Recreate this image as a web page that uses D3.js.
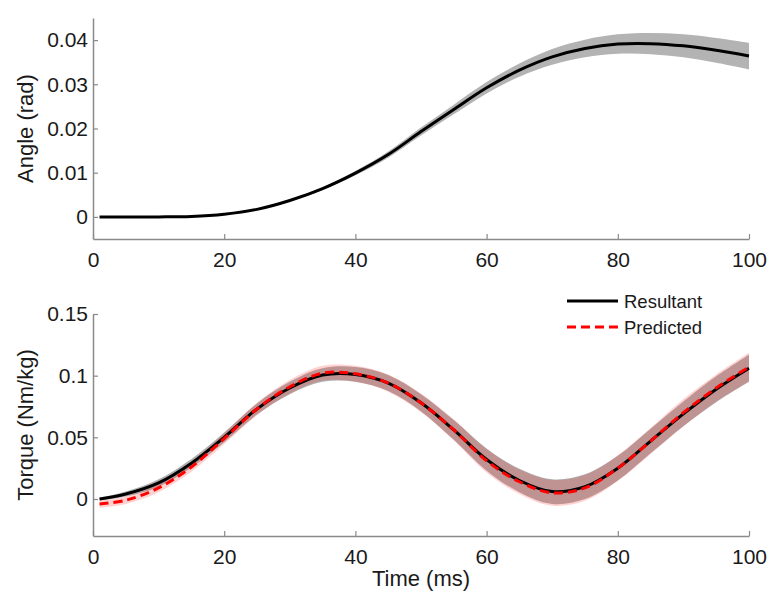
<!DOCTYPE html>
<html>
<head>
<meta charset="utf-8">
<script src="https://cdn.jsdelivr.net/npm/d3@7/dist/d3.min.js"></script>
<style>
  html, body { margin: 0; padding: 0; background: #fff; }
  svg { display: block; font-family: "Liberation Sans", Arial, Helvetica, sans-serif; }
</style>
</head>
<body>
<svg id="chart" width="782" height="606"></svg>
<script>
// ---- data ----
const timeMs = [1, 5, 10, 15, 20, 25, 30, 35, 40, 45, 50, 55, 60, 65, 70, 75, 80, 85, 90, 95, 100];
const angleMean = [0, 0, 0, 0.0001, 0.0006, 0.0017, 0.0037, 0.0064, 0.0099, 0.0141, 0.0193, 0.0243, 0.0292, 0.0332, 0.0362, 0.0381, 0.0391, 0.0392, 0.0387, 0.0377, 0.0364];
const angleSD = [0.0001, 0.0001, 0.0001, 0.0001, 0.0001, 0.0001, 0.0002, 0.0003, 0.0005, 0.0007, 0.0009, 0.0011, 0.0013, 0.0015, 0.0018, 0.0020, 0.0022, 0.0024, 0.0026, 0.0028, 0.0030];
const resultantMean = [0.000, 0.004, 0.013, 0.029, 0.050, 0.073, 0.090, 0.1005, 0.101, 0.094, 0.078, 0.056, 0.032, 0.015, 0.006, 0.010, 0.025, 0.047, 0.069, 0.089, 0.106];
const resultantSD = [0.001, 0.002, 0.003, 0.0035, 0.004, 0.0045, 0.005, 0.0055, 0.006, 0.0065, 0.007, 0.008, 0.009, 0.0095, 0.010, 0.010, 0.010, 0.010, 0.010, 0.0105, 0.011];
const predictedMean = [-0.004, -0.001, 0.009, 0.026, 0.049, 0.073, 0.091, 0.102, 0.1015, 0.094, 0.078, 0.056, 0.031, 0.014, 0.005, 0.009, 0.025, 0.047, 0.070, 0.090, 0.107];
const predictedSD = [0.003, 0.003, 0.0035, 0.004, 0.0045, 0.005, 0.0055, 0.006, 0.0065, 0.007, 0.0075, 0.0085, 0.0095, 0.010, 0.0105, 0.0105, 0.0105, 0.0105, 0.011, 0.011, 0.0115];
const xTicks = [0, 20, 40, 60, 80, 100];
const angleTicks = [0, 0.01, 0.02, 0.03, 0.04];
const angleTickLabels = ["0", "0.01", "0.02", "0.03", "0.04"];
const torqueTicks = [0, 0.05, 0.1, 0.15];
const torqueTickLabels = ["0", "0.05", "0.1", "0.15"];
const seriesNames = ["Resultant", "Predicted"];

const svg = d3.select("#chart");
const axisColor = "#8a8a8a";
const textColor = "#1a1a1a";

const x = d3.scaleLinear().domain([0, 100]).range([93, 749]);
const yA = d3.scaleLinear().domain([-0.005, 0.045]).range([239, 18]);
const yT = d3.scaleLinear().domain([-0.03, 0.15]).range([536, 314]);

const curve = d3.curveCatmullRom.alpha(0.5);

function drawAxes(y, yTicks, yLabels, ylabel, withXLabel) {
  const g = svg.append("g");
  const xa = d3.axisBottom(x).tickValues(xTicks).tickFormat(d3.format("d"))
    .tickSizeInner(-5).tickSizeOuter(0).tickPadding(13);
  const gx = g.append("g").attr("transform", `translate(0,${y.range()[0]})`).call(xa);
  const ya = d3.axisLeft(y).tickValues(yTicks).tickFormat((d, i) => yLabels[i])
    .tickSizeInner(-5).tickSizeOuter(0).tickPadding(5);
  const gy = g.append("g").attr("transform", `translate(${x.range()[0]},0)`).call(ya);
  [gx, gy].forEach(a => {
    a.select(".domain").attr("stroke", axisColor).attr("stroke-width", 1.5);
    a.selectAll(".tick line").attr("stroke", axisColor).attr("stroke-width", 1.2);
    a.selectAll(".tick text").attr("fill", textColor).style("font-size", "21px")
      .style("font-family", "'Liberation Sans', Arial, sans-serif");
  });
  const cy = (y.range()[0] + y.range()[1]) / 2;
  g.append("text").attr("transform", `translate(33,${cy}) rotate(-90)`)
    .attr("text-anchor", "middle").attr("fill", textColor).style("font-size", "22px").text(ylabel);
  if (withXLabel) {
    g.append("text").attr("x", (x.range()[0] + x.range()[1]) / 2).attr("y", 586)
      .attr("text-anchor", "middle").attr("fill", textColor).style("font-size", "22px").text("Time (ms)");
  }
}

function band(y, mean, sd) {
  return d3.area().curve(curve)
    .x((d, i) => x(timeMs[i]))
    .y0((d, i) => y(mean[i] - sd[i]))
    .y1((d, i) => y(mean[i] + sd[i]))(timeMs);
}
function line(y, mean) {
  return d3.line().curve(curve).x((d, i) => x(timeMs[i])).y((d, i) => y(mean[i]))(timeMs);
}

// ---- top: angle ----
drawAxes(yA, angleTicks, angleTickLabels, "Angle (rad)", false);
svg.append("path").attr("d", band(yA, angleMean, angleSD)).attr("fill", "#b3b3b3");
svg.append("path").attr("d", line(yA, angleMean)).attr("fill", "none").attr("stroke", "#000").attr("stroke-width", 3);

// ---- bottom: torque ----
drawAxes(yT, torqueTicks, torqueTickLabels, "Torque (Nm/kg)", true);
svg.append("path").attr("d", band(yT, resultantMean, resultantSD)).attr("fill", "#a6a6a6").attr("fill-opacity", 0.9);
svg.append("path").attr("d", band(yT, predictedMean, predictedSD)).attr("fill", "#ff3030").attr("fill-opacity", 0.22);
svg.append("path").attr("d", line(yT, resultantMean)).attr("fill", "none").attr("stroke", "#000").attr("stroke-width", 3);
svg.append("path").attr("d", line(yT, predictedMean)).attr("fill", "none").attr("stroke", "#ff0000")
  .attr("stroke-width", 3).attr("stroke-dasharray", "9,5");

// ---- legend ----
const leg = svg.append("g");
seriesNames.forEach((name, i) => {
  const ly = 301 + i * 26;
  leg.append("line").attr("x1", 567).attr("x2", 618).attr("y1", ly).attr("y2", ly)
    .attr("stroke", i === 0 ? "#000" : "#ff0000").attr("stroke-width", 3)
    .attr("stroke-dasharray", i === 0 ? null : "9,5");
  leg.append("text").attr("x", 624).attr("y", ly + 6.5).attr("fill", textColor)
    .style("font-size", "18.5px").text(name);
});
</script>
</body>
</html>
